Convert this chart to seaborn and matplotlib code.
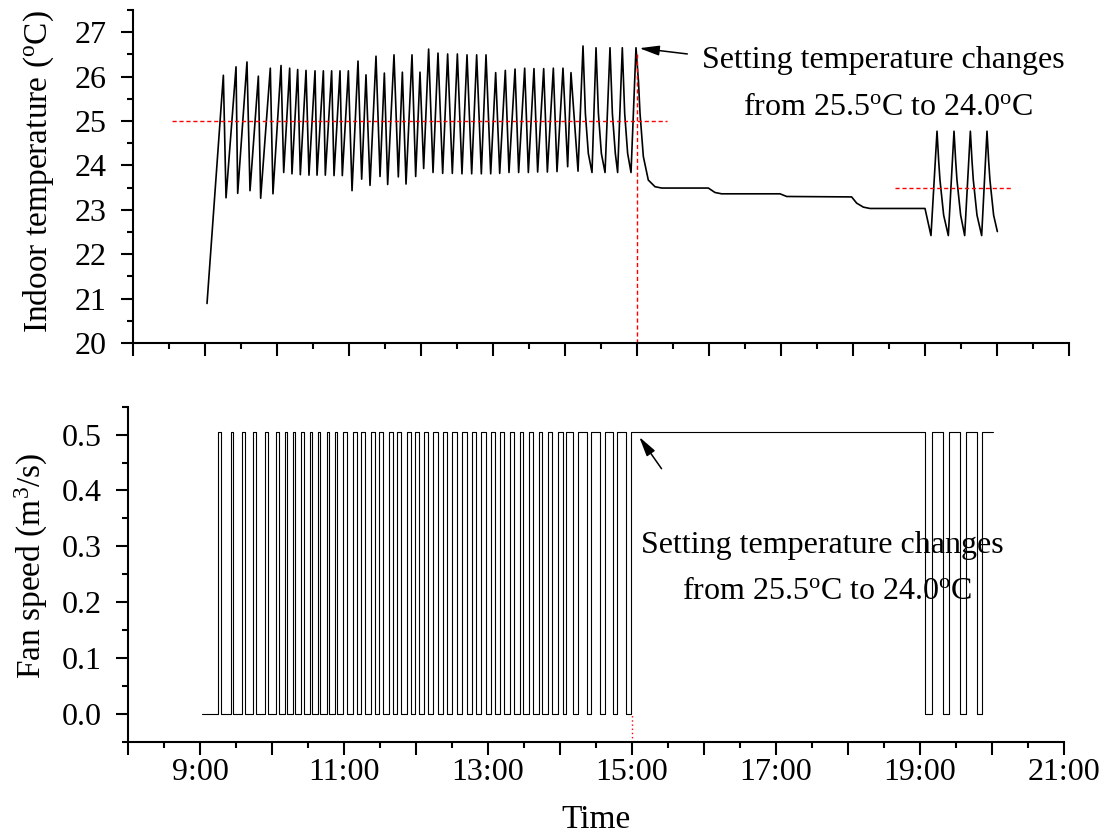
import matplotlib
matplotlib.use("Agg")
import matplotlib.pyplot as plt
import seaborn as sns
import pandas as pd
from matplotlib.ticker import MultipleLocator, FuncFormatter

# ---------------- data (hours of day, readings) ----------------
temp_hours = [
    9.028,
    9.255, 9.292, 9.431, 9.454, 9.583, 9.625, 9.741, 9.773, 9.907, 9.944,
    10.056, 10.093, 10.176, 10.208, 10.287, 10.324, 10.403, 10.444, 10.528, 10.556,
    10.644, 10.671, 10.759, 10.792, 10.875, 10.907, 10.991, 11.042,
    11.125, 11.176, 11.236, 11.292, 11.375, 11.431, 11.491, 11.537, 11.625, 11.685,
    11.741, 11.792, 11.875, 11.926, 11.986, 12.037,
    12.106, 12.167, 12.236, 12.301, 12.370, 12.435, 12.505, 12.569, 12.639, 12.704,
    12.773, 12.838, 12.903, 12.968,
    13.037, 13.093, 13.171, 13.222, 13.306, 13.356, 13.440, 13.491, 13.569, 13.620,
    13.704, 13.755, 13.838, 13.889, 13.972, 14.037, 14.083, 14.181,
    14.250, 14.283, 14.324, 14.375,
    14.431, 14.464, 14.505, 14.556,
    14.625, 14.658, 14.699, 14.731,
    14.796, 14.829, 14.870, 14.917,
    14.986,
    15.020, 15.042, 15.088, 15.157, 15.250, 15.343, 15.991, 16.083, 16.176, 16.986,
    17.079, 17.981, 18.051, 18.144, 18.236, 19.000,
    19.083, 19.167, 19.190, 19.208, 19.259, 19.324, 19.403, 19.426, 19.444, 19.495,
    19.551, 19.630, 19.653, 19.671, 19.722, 19.787, 19.861, 19.884, 19.902, 19.953, 20.005,
]
temp_values = [
    20.89,
    26.03, 23.27, 26.22, 23.37, 26.33, 23.43, 26.01, 23.26, 26.19, 23.36,
    26.25, 23.84, 26.19, 23.81, 26.16, 23.79, 26.14, 23.78, 26.13, 23.78,
    26.13, 23.78, 26.13, 23.77, 26.13, 23.77, 26.13, 23.43,
    26.35, 23.69, 26.04, 23.55, 26.46, 23.75, 26.08, 23.57, 26.49, 23.74,
    26.10, 23.58, 26.49, 23.75, 26.10, 23.93,
    26.62, 23.84, 26.53, 23.82, 26.51, 23.82, 26.51, 23.81, 26.49, 23.81,
    26.49, 23.81, 26.49, 23.81,
    26.09, 23.82, 26.14, 23.84, 26.17, 23.84, 26.19, 23.84, 26.18, 23.85,
    26.18, 23.85, 26.19, 23.86, 26.19, 23.97, 26.09, 23.87,
    26.69, 25.17, 24.27, 23.84,
    26.65, 25.17, 24.27, 23.84,
    26.65, 25.17, 24.27, 23.84,
    26.65, 25.17, 24.27, 23.84,
    26.65,
    25.90, 25.17, 24.20, 23.67, 23.52, 23.49, 23.49, 23.39, 23.36, 23.36,
    23.30, 23.29, 23.15, 23.06, 23.03, 23.03,
    22.42, 24.77, 24.10, 23.67, 22.88, 22.42, 24.77, 24.10, 23.67, 22.88,
    22.42, 24.77, 24.10, 23.67, 22.88, 22.42, 24.77, 24.10, 23.67, 22.88, 22.51,
]

fan_start_time = 9.028
fan_on_value = 0.505
fan_on_start = [
    9.255, 9.431, 9.583, 9.741, 9.907, 10.056, 10.176, 10.287, 10.403, 10.528,
    10.644, 10.759, 10.875, 10.991, 11.125, 11.236, 11.375, 11.491, 11.625, 11.741,
    11.875, 11.986, 12.106, 12.236, 12.370, 12.505, 12.639, 12.773, 12.903, 13.037,
    13.171, 13.306, 13.440, 13.569, 13.704, 13.838, 13.972, 14.083, 14.250, 14.431,
    14.625, 14.796, 14.986, 19.172, 19.400, 19.635, 19.866,
]
fan_on_end = [
    9.292, 9.454, 9.625, 9.773, 9.944, 10.093, 10.208, 10.324, 10.444, 10.556,
    10.671, 10.792, 10.907, 11.042, 11.176, 11.292, 11.431, 11.537, 11.685, 11.792,
    11.926, 12.037, 12.167, 12.301, 12.435, 12.569, 12.704, 12.838, 12.968, 13.093,
    13.222, 13.356, 13.491, 13.620, 13.755, 13.889, 14.037, 14.181, 14.375, 14.556,
    14.731, 14.917, 19.076, 19.320, 19.553, 19.788, 20.010,
]

setpoint_before = 25.0
setpoint_before_span = [8.535, 15.41]
setpoint_after = 23.5
setpoint_after_span = [18.58, 20.22]
change_time = 15.0
change_line_top = 26.53

note_line1 = "Setting temperature changes"
note_line2 = "from 25.5$^{\\rm o}$C to 24.0$^{\\rm o}$C"
ylabel_top = "Indoor temperature ($^{\\rm o}$C)"
ylabel_bottom = "Fan speed (m$^{3}$/s)"
xlabel = "Time"

# ---------------- build step series for fan ----------------
fan_t = [fan_start_time]
fan_v = [0.0]
for i, (s, e) in enumerate(zip(fan_on_start, fan_on_end)):
    fan_t += [s, s, e]
    fan_v += [0.0, fan_on_value, fan_on_value]
    if i < len(fan_on_start) - 1:
        fan_t.append(e)
        fan_v.append(0.0)

temp_df = pd.DataFrame({"hour": temp_hours, "temp": temp_values})
fan_df = pd.DataFrame({"hour": fan_t, "fan": fan_v})

# ---------------- style ----------------
sns.set_theme(style="ticks")
plt.rcParams["font.family"] = ["Liberation Serif", "DejaVu Serif"]
plt.rcParams["mathtext.fontset"] = "custom"
plt.rcParams["mathtext.rm"] = "Liberation Serif"
plt.rcParams["mathtext.it"] = "Liberation Serif:italic"
plt.rcParams["axes.linewidth"] = 1.5
plt.rcParams["text.color"] = "black"
plt.rcParams["axes.labelcolor"] = "black"
plt.rcParams["xtick.color"] = "black"
plt.rcParams["ytick.color"] = "black"

W, H = 1112, 833
fig = plt.figure(figsize=(W / 100, H / 100), dpi=100)
ax1 = fig.add_axes([133 / W, 1 - 343 / H, 936 / W, 333 / H])
ax2 = fig.add_axes([128 / W, 1 - 741.7 / H, 936 / W, 335 / H])

sns.lineplot(data=temp_df, x="hour", y="temp", ax=ax1, color="black",
             lw=1.2, sort=False, estimator=None)
sns.lineplot(data=fan_df, x="hour", y="fan", ax=ax2, color="black",
             lw=0.8, sort=False, estimator=None)

# reference lines
ax1.plot(setpoint_before_span, [setpoint_before] * 2, color="red", lw=1.0, ls=(0, (3, 2)))
ax1.plot(setpoint_after_span, [setpoint_after] * 2, color="red", lw=1.0, ls=(0, (3, 2)))
ax1.plot([change_time, change_time], [20, change_line_top], color="red", lw=1.0, ls=(0, (3, 2)))
ax2.plot([change_time, change_time], [-0.05, 0.0], color="red", lw=1.0, ls=(0, (1, 2)))

# annotations
arrow = dict(arrowstyle="-|>,head_length=0.6,head_width=0.15", color="black",
             lw=1.1, mutation_scale=20, shrinkA=0, shrinkB=0)
ax1.annotate("", xy=(15.032, 26.64), xytext=(15.699, 26.51), arrowprops=arrow)
ax1.text(18.417, 26.19, note_line1, ha="center", va="baseline", fontsize=23, color="black")
ax1.text(18.486, 25.135, note_line2, ha="center", va="baseline", fontsize=23, color="black")

ax2.annotate("", xy=(15.10, 0.496), xytext=(15.41, 0.439), arrowprops=arrow)
ax2.text(17.646, 0.288, note_line1, ha="center", va="baseline", fontsize=23, color="black")
ax2.text(17.715, 0.206, note_line2, ha="center", va="baseline", fontsize=23, color="black")

# axes formatting
def hour_fmt(v, pos):
    h = int(round(v))
    return f"{h}:00" if h % 2 == 1 else ""

for ax in (ax1, ax2):
    ax.set_xlim(8, 21)
    ax.xaxis.set_major_locator(MultipleLocator(1))
    ax.xaxis.set_minor_locator(MultipleLocator(0.5))
    ax.xaxis.set_major_formatter(FuncFormatter(hour_fmt))
    ax.tick_params(which="major", direction="out", length=9, width=1.5,
                   labelsize=23, color="black", labelcolor="black", pad=3)
    ax.tick_params(which="minor", direction="out", length=4.5, width=1.5, color="black")
    ax.tick_params(axis="y", which="major", pad=10)
    for side in ("top", "right"):
        ax.spines[side].set_visible(False)
    for side in ("left", "bottom"):
        ax.spines[side].set_color("black")
        ax.spines[side].set_linewidth(1.5)

ax1.set_ylim(20, 27.5)
ax1.yaxis.set_major_locator(MultipleLocator(1))
ax1.yaxis.set_minor_locator(MultipleLocator(0.5))
ax1.tick_params(axis="x", labelbottom=False)
ax1.set_xlabel("")
ax1.set_ylabel(ylabel_top, fontsize=24, color="black")
ax1.yaxis.set_label_coords(-0.082, 0.516)

ax2.set_ylim(-0.05, 0.55)
ax2.yaxis.set_major_locator(MultipleLocator(0.1))
ax2.yaxis.set_minor_locator(MultipleLocator(0.05))
ax2.yaxis.set_major_formatter(FuncFormatter(lambda v, p: f"{v:.1f}"))
ax2.set_xlabel(xlabel, fontsize=24, labelpad=12, color="black")
ax2.set_ylabel(ylabel_bottom, fontsize=24, color="black")
ax2.yaxis.set_label_coords(-0.083, 0.524)

fig.savefig("out.png", dpi=100, facecolor="white")
